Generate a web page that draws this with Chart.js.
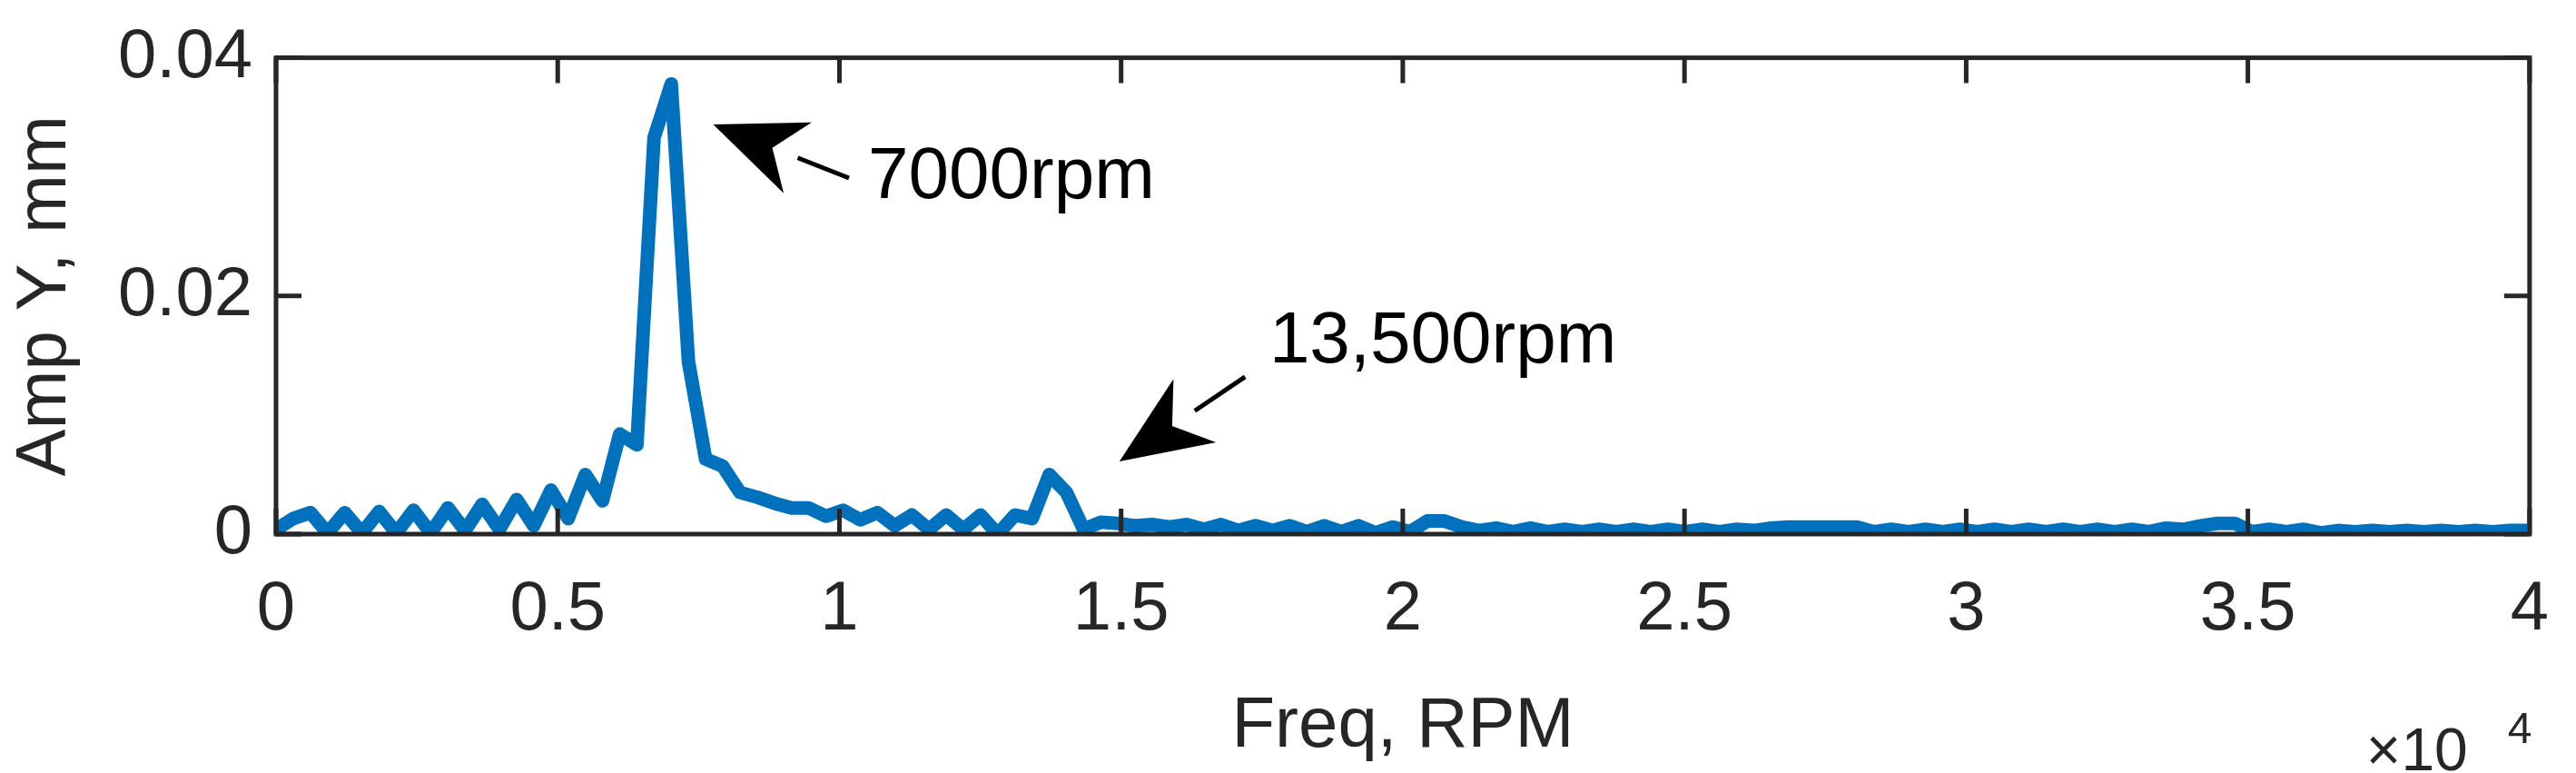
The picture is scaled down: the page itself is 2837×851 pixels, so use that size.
<!DOCTYPE html>
<html lang="en">
<head>
  <meta charset="UTF-8" />
  <title>Amp Y spectrum</title>
  <script src="https://cdn.jsdelivr.net/npm/chart.js"></script>
  <style>
    * { margin: 0; padding: 0; }
    body { background: #fff; }
  </style>
</head>
<body>
  <canvas id="spec" width="2837" height="851"></canvas>
  <script>
    // sample spacing of the spectrum, rpm
    const stepRpm = 305;
    const amp = [
      0.0004, 0.0013, 0.0018, 0.0001, 0.0018, 0.0001, 0.0019, 0.0001, 0.0020, 0.0001,
      0.0022, 0.0003, 0.0025, 0.0004, 0.0029, 0.0007, 0.0037, 0.0013, 0.0050, 0.0028,
      0.0084, 0.0075, 0.0333, 0.0378, 0.0145, 0.0063, 0.0057, 0.0035, 0.0031, 0.0026,
      0.0022, 0.0022, 0.0015, 0.0020, 0.0012, 0.0018, 0.0007, 0.0016, 0.0004, 0.0016,
      0.0004, 0.0016, 0.0000, 0.0016, 0.0013, 0.0050, 0.0035, 0.0004, 0.0010, 0.0009,
      0.0007, 0.0008, 0.0006, 0.0008, 0.0004, 0.0008, 0.0003, 0.0007, 0.0003, 0.0007,
      0.0002, 0.0007, 0.0002, 0.0007, 0.0001, 0.0006, 0.0002, 0.0011, 0.0011, 0.0006,
      0.0003, 0.0005, 0.0002, 0.0005, 0.0002, 0.0004, 0.0002, 0.0004, 0.0002, 0.0004,
      0.0002, 0.0004, 0.0002, 0.0004, 0.0002, 0.0004, 0.0003, 0.0005, 0.0006, 0.0006,
      0.0006, 0.0006, 0.0006, 0.0002, 0.0004, 0.0002, 0.0004, 0.0002, 0.0004, 0.0002,
      0.0004, 0.0002, 0.0004, 0.0002, 0.0004, 0.0002, 0.0004, 0.0002, 0.0004, 0.0002,
      0.0005, 0.0004, 0.0007, 0.0009, 0.0009, 0.0002, 0.0004, 0.0002, 0.0004, 0.0001,
      0.0003, 0.0002, 0.0003, 0.0002, 0.0003, 0.0002, 0.0003, 0.0002, 0.0003, 0.0002,
      0.0003, 0.0003
    ];
    const xTicks = [0, 0.5, 1, 1.5, 2, 2.5, 3, 3.5, 4];
    const yTicks = [0, 0.02, 0.04];
    // annotations: arrow tip, arrow tail, label position (x in 1e4 rpm)
    const notes = [
      { tip: [0.776, 0.0344], tail: [1.017, 0.0299], text: '7000rpm', at: [1.051, 0.0299] },
      { tip: [1.497, 0.0061], tail: [1.72, 0.0132], text: '13,500rpm', at: [1.763, 0.0161] }
    ];

    const pts = amp.map((a, i) => ({ x: i * stepRpm / 1e4, y: a }));
    const FONT = '"Liberation Sans", Arial, sans-serif';
    const axisCol = '#262626';

    const frame = {
      id: 'frame',
      afterDatasetsDraw(chart) {
        const { ctx, chartArea: a, scales: { x, y } } = chart;
        ctx.save();
        ctx.strokeStyle = axisCol;
        ctx.lineWidth = 5;
        ctx.strokeRect(a.left, a.top, a.right - a.left, a.bottom - a.top);
        ctx.beginPath();
        xTicks.forEach(t => {
          const px = x.getPixelForValue(t);
          ctx.moveTo(px, a.bottom); ctx.lineTo(px, a.bottom - 28);
          ctx.moveTo(px, a.top); ctx.lineTo(px, a.top + 28);
        });
        yTicks.forEach(t => {
          const py = y.getPixelForValue(t);
          ctx.moveTo(a.left, py); ctx.lineTo(a.left + 28, py);
          ctx.moveTo(a.right, py); ctx.lineTo(a.right - 28, py);
        });
        ctx.stroke();

        // x10^4 exponent label
        ctx.fillStyle = axisCol;
        ctx.textBaseline = 'alphabetic';
        ctx.textAlign = 'left';
        ctx.font = '66px ' + FONT;
        ctx.fillText('\u00d710', a.right - 180, 848);
        ctx.font = '48px ' + FONT;
        ctx.fillText('4', a.right - 24, 818);

        // arrows and labels
        ctx.fillStyle = '#000';
        ctx.strokeStyle = '#000';
        notes.forEach(n => {
          const tx = x.getPixelForValue(n.tip[0]), ty = y.getPixelForValue(n.tip[1]);
          const sx = x.getPixelForValue(n.tail[0]), sy = y.getPixelForValue(n.tail[1]);
          const ang = Math.atan2(ty - sy, tx - sx);
          const hl = 100, hw = 42;
          const bx = tx - hl * Math.cos(ang), by = ty - hl * Math.sin(ang);
          ctx.lineWidth = 5;
          ctx.beginPath(); ctx.moveTo(sx, sy); ctx.lineTo(bx, by); ctx.stroke();
          ctx.beginPath();
          ctx.moveTo(tx, ty);
          ctx.lineTo(bx + hw * Math.sin(ang), by - hw * Math.cos(ang));
          ctx.lineTo(tx - hl * 0.7 * Math.cos(ang), ty - hl * 0.7 * Math.sin(ang));
          ctx.lineTo(bx - hw * Math.sin(ang), by + hw * Math.cos(ang));
          ctx.closePath(); ctx.fill();
          ctx.font = '80px ' + FONT;
          ctx.textBaseline = 'middle';
          ctx.fillText(n.text, x.getPixelForValue(n.at[0]), y.getPixelForValue(n.at[1]));
        });
        ctx.restore();
      }
    };

    new Chart(document.getElementById('spec'), {
      type: 'line',
      data: {
        datasets: [{
          data: pts,
          borderColor: '#0072BD',
          borderWidth: 15,
          pointRadius: 0,
          tension: 0,
          borderJoinStyle: 'round',
          fill: false
        }]
      },
      options: {
        responsive: false,
        animation: false,
        devicePixelRatio: 1,
        layout: { padding: { top: 43, right: 42, left: 0, bottom: 0 } },
        plugins: { legend: { display: false }, tooltip: { enabled: false } },
        scales: {
          x: {
            type: 'linear', min: 0, max: 4,
            afterBuildTicks: s => { s.ticks = xTicks.map(v => ({ value: v })); },
            afterFit: s => { s.height = 263; },
            grid: { display: false }, border: { display: false },
            ticks: { color: axisCol, font: { size: 76, family: FONT }, padding: 30, maxRotation: 0,
                     callback: v => String(v) },
            title: { display: true, text: 'Freq, RPM', color: axisCol, font: { size: 78, family: FONT }, padding: { top: 10 } }
          },
          y: {
            min: 0, max: 0.04,
            afterBuildTicks: s => { s.ticks = yTicks.map(v => ({ value: v })); },
            afterFit: s => { s.width = 304; },
            grid: { display: false }, border: { display: false },
            ticks: { color: axisCol, font: { size: 76, family: FONT }, padding: 18,
                     callback: v => v === 0 ? '0' : v.toFixed(2) },
            title: { display: true, text: 'Amp Y, mm', color: axisCol, font: { size: 78, family: FONT }, padding: { bottom: 10 } }
          }
        }
      },
      plugins: [frame]
    });
  </script>
</body>
</html>
